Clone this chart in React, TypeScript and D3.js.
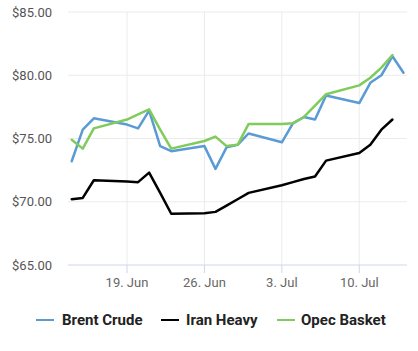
import * as d3 from 'd3';

// weekdays, 14 Jun – 14 Jul 2017
const dates = [
  '2017-06-14', '2017-06-15', '2017-06-16', '2017-06-19', '2017-06-20', '2017-06-21', '2017-06-22', '2017-06-23',
  '2017-06-26', '2017-06-27', '2017-06-28', '2017-06-29', '2017-06-30', '2017-07-03', '2017-07-04', '2017-07-05',
  '2017-07-06', '2017-07-07', '2017-07-10', '2017-07-11', '2017-07-12', '2017-07-13', '2017-07-14',
];

const brentCrude = [
  73.2, 75.7, 76.6, 76.1, 75.8, 77.2, 74.4, 74.0,
  74.4, 72.6, 74.3, 74.5, 75.4, 74.7, 76.2, 76.7,
  76.5, 78.4, 77.8, 79.4, 80.0, 81.5, 80.2,
];

const iranHeavy = [
  70.2, 70.3, 71.7, 71.6, 71.55, 72.3, 70.7, 69.05,
  69.1, 69.2, 69.7, 70.2, 70.7, 71.3, 71.55, 71.8,
  72.0, 73.25, 73.85, 74.5, 75.7, 76.5,
];

const opecBasket = [
  74.9, 74.2, 75.8, 76.5, 76.9, 77.3, 75.7, 74.2,
  74.8, 75.15, 74.4, 74.5, 76.15, 76.15, 76.2, 76.7,
  77.6, 78.5, 79.2, 79.8, 80.6, 81.6,
];

const yTicks = [65, 70, 75, 80, 85];
const xTicks = ['2017-06-19', '2017-06-26', '2017-07-03', '2017-07-10'];

const series = [
  { name: 'Brent Crude', color: '#5b9bd5', values: brentCrude },
  { name: 'Iran Heavy', color: '#000000', values: iranHeavy },
  { name: 'Opec Basket', color: '#7fcb5b', values: opecBasket },
];

const W = 418;
const H = 351;
const plot = { left: 68, right: 407, top: 12, bottom: 265 };
const font = 'Roboto, sans-serif';

export default function App() {
  const parse = d3.timeParse('%Y-%m-%d');
  const x = d3
    .scaleTime()
    .domain([parse('2017-06-14')!, parse('2017-07-14')!])
    .range([71.7, 403.5]);
  const y = d3.scaleLinear().domain([65, 85]).range([plot.bottom, plot.top]);
  const fmtMonth = d3.timeFormat('%b');

  const line = d3
    .line<number>()
    .x((_, i) => x(parse(dates[i])!))
    .y((d) => y(d));

  // legend layout
  const legendItems = [
    { sx: 36, tx: 62 },
    { sx: 161, tx: 186 },
    { sx: 277, tx: 301 },
  ];

  return (
    <svg width={W} height={H} style={{ position: 'absolute', left: 0, top: 0, background: '#fff' }}>
      {/* grid */}
      {yTicks.slice(1).map((t) => (
        <line key={t} x1={plot.left} x2={plot.right} y1={y(t)} y2={y(t)} stroke="#ebebeb" strokeWidth={1} />
      ))}
      {xTicks.map((t) => (
        <line key={t} x1={x(parse(t)!)} x2={x(parse(t)!)} y1={plot.top} y2={plot.bottom} stroke="#ebebeb" strokeWidth={1} />
      ))}

      {/* x axis */}
      <line x1={plot.left} x2={plot.right} y1={plot.bottom} y2={plot.bottom} stroke="#ccd6eb" strokeWidth={1} />
      {xTicks.map((t) => {
        const d = parse(t)!;
        return (
          <g key={t} transform={`translate(${x(d)},0)`}>
            <line y1={plot.bottom} y2={plot.bottom + 8} stroke="#ccd6eb" strokeWidth={1} />
            <text y={plot.bottom + 22} textAnchor="middle" fontFamily={font} fontSize={13} fill="#666">
              {`${d.getDate()}. ${fmtMonth(d)}`}
            </text>
          </g>
        );
      })}

      {/* y axis labels */}
      {yTicks.map((t) => (
        <text key={t} x={52} y={y(t)} dy="0.35em" textAnchor="end" fontFamily={font} fontSize={13} fill="#555">
          {`$${t.toFixed(2)}`}
        </text>
      ))}

      {/* series */}
      {series.map((s) => (
        <path
          key={s.name}
          d={line(s.values) || ''}
          fill="none"
          stroke={s.color}
          strokeWidth={2.5}
          strokeLinejoin="round"
          strokeLinecap="round"
        />
      ))}

      {/* legend */}
      {series.map((s, i) => (
        <g key={s.name}>
          <line x1={legendItems[i].sx} x2={legendItems[i].sx + 18} y1={320} y2={320} stroke={s.color} strokeWidth={2} />
          <text x={legendItems[i].tx} y={320} dy="0.35em" fontFamily={font} fontSize={15} fontWeight={700} fill="#222">
            {s.name}
          </text>
        </g>
      ))}
    </svg>
  );
}
